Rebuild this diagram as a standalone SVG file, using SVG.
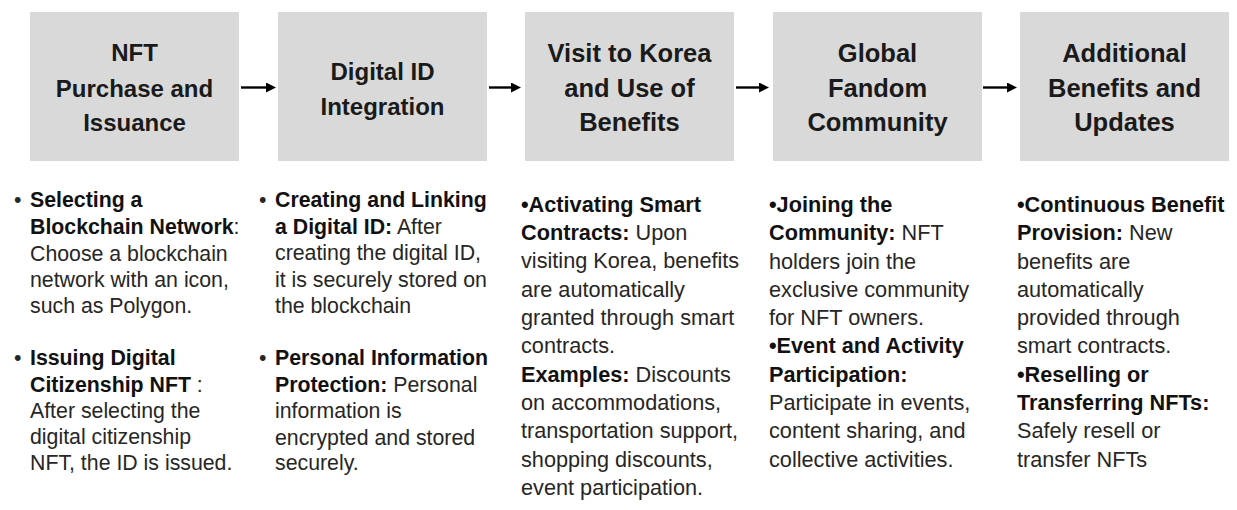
<svg xmlns="http://www.w3.org/2000/svg" width="1237" height="510" viewBox="0 0 1237 510">
<style>
text{font-family:"Liberation Sans",Arial,sans-serif;fill:#262626}
.box{fill:#d9d9d9}
.t1{font-size:24px;font-weight:bold;fill:#1a1a1a;text-anchor:middle}
.t2{font-size:25.5px;font-weight:bold;fill:#1a1a1a;text-anchor:middle}
.a{font-size:21.3px}
.c{font-size:21.7px}
.b{font-weight:bold;fill:#111}
.conn{stroke:#000;stroke-width:2.4;fill:none}
</style>
<defs>
<marker id="ah" viewBox="0 0 10 10" refX="5" refY="5" markerWidth="11" markerHeight="10" markerUnits="userSpaceOnUse" orient="auto">
<path d="M0,0 L10,5 L0,10 Z" fill="#000"/>
</marker>
</defs>
<g id="node1">
<rect class="box" x="30" y="12" width="209" height="149"/>
<text class="t1" x="134.5" y="61">NFT</text>
<text class="t1" x="134.5" y="97">Purchase and</text>
<text class="t1" x="134.5" y="131">Issuance</text>
</g>
<g id="node2">
<rect class="box" x="278" y="12" width="209" height="149"/>
<text class="t1" x="382.5" y="80">Digital ID</text>
<text class="t1" x="382.5" y="115">Integration</text>
</g>
<g id="node3">
<rect class="box" x="525" y="12" width="209" height="149"/>
<text class="t2" x="629.5" y="62">Visit to Korea</text>
<text class="t2" x="629.5" y="97">and Use of</text>
<text class="t2" x="629.5" y="131">Benefits</text>
</g>
<g id="node4">
<rect class="box" x="773" y="12" width="209" height="149"/>
<text class="t2" x="877.5" y="62">Global</text>
<text class="t2" x="877.5" y="97">Fandom</text>
<text class="t2" x="877.5" y="131">Community</text>
</g>
<g id="node5">
<rect class="box" x="1020" y="12" width="209" height="149"/>
<text class="t2" x="1124.5" y="62">Additional</text>
<text class="t2" x="1124.5" y="97">Benefits and</text>
<text class="t2" x="1124.5" y="131">Updates</text>
</g>
<g id="connectors">
<line class="conn" x1="241" y1="87.5" x2="271" y2="87.5" marker-end="url(#ah)"/>
<line class="conn" x1="489" y1="87.5" x2="516" y2="87.5" marker-end="url(#ah)"/>
<line class="conn" x1="736" y1="87.5" x2="764" y2="87.5" marker-end="url(#ah)"/>
<line class="conn" x1="983" y1="87.5" x2="1012" y2="87.5" marker-end="url(#ah)"/>
</g>
<g id="desc1" class="a">
<text x="14" y="207">•</text>
<text x="30" y="207" class="b">Selecting a</text>
<text x="30" y="234"><tspan class="b">Blockchain Network</tspan>:</text>
<text x="30" y="261">Choose a blockchain</text>
<text x="30" y="287">network with an icon,</text>
<text x="30" y="313">such as Polygon.</text>
<text x="14" y="365">•</text>
<text x="30" y="365" class="b">Issuing Digital</text>
<text x="30" y="392"><tspan class="b">Citizenship NFT</tspan> :</text>
<text x="30" y="418">After selecting the</text>
<text x="30" y="444">digital citizenship</text>
<text x="30" y="470">NFT, the ID is issued.</text>
</g>
<g id="desc2" class="a">
<text x="259" y="207">•</text>
<text x="275" y="207" class="b">Creating and Linking</text>
<text x="275" y="234"><tspan class="b">a Digital ID:</tspan> After</text>
<text x="275" y="260">creating the digital ID,</text>
<text x="275" y="287">it is securely stored on</text>
<text x="275" y="313">the blockchain</text>
<text x="259" y="365">•</text>
<text x="275" y="365" class="b">Personal Information</text>
<text x="275" y="392"><tspan class="b">Protection:</tspan> Personal</text>
<text x="275" y="418">information is</text>
<text x="275" y="445">encrypted and stored</text>
<text x="275" y="470">securely.</text>
</g>
<g id="desc3" class="c">
<text x="521" y="212" class="b">•Activating Smart</text>
<text x="521" y="240"><tspan class="b">Contracts:</tspan> Upon</text>
<text x="521" y="268">visiting Korea, benefits</text>
<text x="521" y="297">are automatically</text>
<text x="521" y="325">granted through smart</text>
<text x="521" y="353">contracts.</text>
<text x="521" y="382"><tspan class="b">Examples:</tspan> Discounts</text>
<text x="521" y="410">on accommodations,</text>
<text x="521" y="438">transportation support,</text>
<text x="521" y="467">shopping discounts,</text>
<text x="521" y="495">event participation.</text>
</g>
<g id="desc4" class="c">
<text x="769" y="212" class="b">•Joining the</text>
<text x="769" y="240"><tspan class="b">Community:</tspan> NFT</text>
<text x="769" y="269">holders join the</text>
<text x="769" y="297">exclusive community</text>
<text x="769" y="325">for NFT owners.</text>
<text x="769" y="353" class="b">•Event and Activity</text>
<text x="769" y="382" class="b">Participation:</text>
<text x="769" y="410">Participate in events,</text>
<text x="769" y="438">content sharing, and</text>
<text x="769" y="467">collective activities.</text>
</g>
<g id="desc5" class="c">
<text x="1017" y="212" class="b">•Continuous Benefit</text>
<text x="1017" y="240"><tspan class="b">Provision:</tspan> New</text>
<text x="1017" y="269">benefits are</text>
<text x="1017" y="297">automatically</text>
<text x="1017" y="325">provided through</text>
<text x="1017" y="353">smart contracts.</text>
<text x="1017" y="382" class="b">•Reselling or</text>
<text x="1017" y="410" class="b">Transferring NFTs:</text>
<text x="1017" y="438">Safely resell or</text>
<text x="1017" y="467">transfer NFTs</text>
</g>
</svg>
